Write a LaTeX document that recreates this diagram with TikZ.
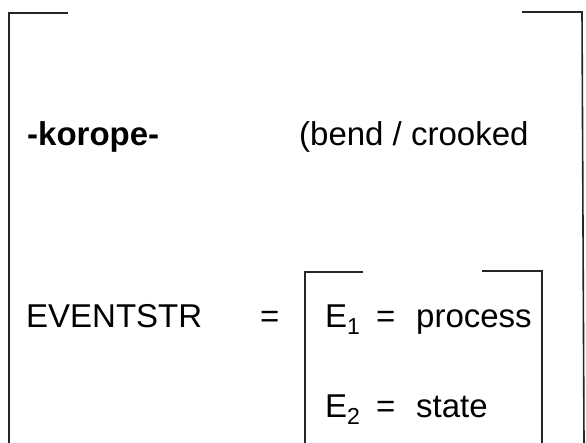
\documentclass[tikz,border=0pt]{standalone}
\usepackage{fontspec}
\setmainfont{Liberation Sans}
\tikzset{
    lbl/.style={anchor=base west, inner sep=0pt, font=\fontsize{33}{39}\selectfont},
    brk/.style={line width=1.6pt, black!85, line join=miter}
}
\begin{document}
\begin{tikzpicture}[x=1pt, y=-1pt]
    \useasboundingbox (0,0) rectangle (586,443);

    % outer frame
    \draw[brk] (68,13) -- (9,13) -- (9,443);
    \draw[brk] (522,12) -- (582,12) -- (584,443);

    \node[lbl, font=\fontsize{33}{39}\selectfont\bfseries] (root) at (27,146) {-korope-};
    \node[lbl] (gloss) at (299,146) {(bend / crooked};

    \node[lbl] (feat) at (26,328) {EVENTSTR};
    \node[lbl] (eq) at (260,328) {=};

    % inner bracket
    \draw[brk] (363,272) -- (305,272) -- (305,443);
    \draw[brk] (482,271) -- (542,271) -- (542,443);

    \node[lbl] (e1) at (325,327) {E\textsubscript{1}};
    \node[lbl] (eqa) at (376,327) {=};
    \node[lbl] (proc) at (416,327) {process};

    \node[lbl] (e2) at (325,417) {E\textsubscript{2}};
    \node[lbl] (eqb) at (376,417) {=};
    \node[lbl] (stat) at (416,417) {state};
\end{tikzpicture}
\end{document}
